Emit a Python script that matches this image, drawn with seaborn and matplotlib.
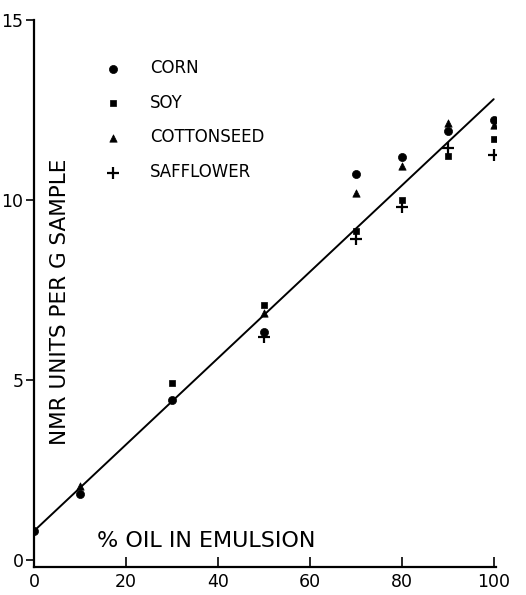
import matplotlib
matplotlib.use('Agg')
import matplotlib.pyplot as plt
import seaborn as sns
import pandas as pd

# values (percent oil vs NMR units per g sample)
oil_pct = [0, 10, 30, 50, 70, 80, 90, 100]
corn = [0.8, 1.83, 4.45, 6.33, 10.72, 11.2, 11.92, 12.22]
soy = [None, None, 4.9, 7.08, 9.14, 10.0, 11.22, 11.7]
cottonseed = [None, 2.06, None, 6.86, 10.19, 10.95, 12.14, 12.08]
safflower = [None, None, None, 6.2, 8.92, 9.8, 11.45, 11.25]

fit_x = [0, 100]
fit_y = [0.8, 12.8]

oils = ['CORN', 'SOY', 'COTTONSEED', 'SAFFLOWER']
series = [corn, soy, cottonseed, safflower]

rows = []
for name, vals in zip(oils, series):
    for x, v in zip(oil_pct, vals):
        if v is not None:
            rows.append({'oil': name, 'pct': x, 'nmr': v})
df = pd.DataFrame(rows)

sns.set_style('white')
plt.rcParams['font.family'] = ['DejaVu Sans']

fig = plt.figure(figsize=(5.26, 5.95), dpi=100)
ax = fig.add_axes([34 / 526, 1 - 567 / 595, 462 / 526, 547 / 595])

sns.lineplot(x=fit_x, y=fit_y, ax=ax, color='black', linewidth=1.4)

markers = {'CORN': ('o', 34), 'SOY': ('s', 24), 'COTTONSEED': ('^', 28), 'SAFFLOWER': ('+', 85)}
for name in oils:
    m, s = markers[name]
    sub = df[df['oil'] == name]
    if m == '+':
        sns.scatterplot(data=sub, x='pct', y='nmr', marker=m, s=s, color='black',
                        linewidth=1.6, ax=ax, label=name)
    else:
        sns.scatterplot(data=sub, x='pct', y='nmr', marker=m, s=s, color='black',
                        edgecolor='black', linewidth=0.5, ax=ax, label=name)

ax.set_xlim(0, 100.5)
ax.set_ylim(-0.2, 15)
ax.set_xticks([0, 20, 40, 60, 80, 100])
ax.set_yticks([0, 5, 10, 15])
ax.set_xlabel('')
ax.set_ylabel('')
for sp in ['top', 'right']:
    ax.spines[sp].set_visible(False)
for sp in ['left', 'bottom']:
    ax.spines[sp].set_linewidth(1.6)
    ax.spines[sp].set_color('black')
ax.tick_params(axis='x', direction='in', length=7, width=1.4, labelsize=12.5, pad=4,
               labelcolor='black')
ax.tick_params(axis='y', direction='out', length=6, width=1.4, labelsize=12.5, pad=1.5,
               labelcolor='black')
ax.tick_params(bottom=True, left=True)

ax.text(0.137, 0.047, '% OIL IN EMULSION', transform=ax.transAxes,
        fontsize=16, ha='left', va='center', color='black')
ax.text(0.057, 0.485, 'NMR UNITS PER G SAMPLE', transform=ax.transAxes,
        fontsize=15.5, rotation=90, ha='center', va='center', color='black')

leg = ax.legend(loc='upper left', bbox_to_anchor=(0.12, 0.941), frameon=False,
                fontsize=12, labelspacing=1.0, handletextpad=1.25, borderaxespad=0)
for t in leg.get_texts():
    t.set_color('black')

plt.savefig('out.png', dpi=100)
